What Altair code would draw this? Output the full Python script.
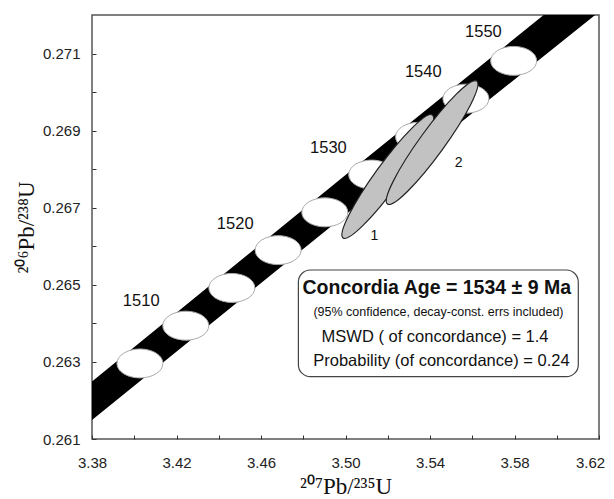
import altair as alt
import pandas as pd

# ---- data ----
# concordia error band (lower / upper edge)
band_x = [3.38, 3.50, 3.62]
band_lo = [0.26149, 0.26682, 0.27208]
band_hi = [0.26249, 0.26785, 0.27316]

# age-marker ellipses (every 5 Ma)
marker_age = [1505, 1510, 1515, 1520, 1525, 1530, 1535, 1540, 1545]
marker_x = [3.4027, 3.4244, 3.4462, 3.4681, 3.4902, 3.5124, 3.5346, 3.5570, 3.5796]
marker_y = [0.26296, 0.26394, 0.26492, 0.26590, 0.26688, 0.26786, 0.26884, 0.26983, 0.27081]

# age labels
age_text = ["1510", "1520", "1530", "1540", "1550"]
age_x = [3.4033, 3.4478, 3.4919, 3.5368, 3.5653]
age_y = [0.26459, 0.26657, 0.26856, 0.27053, 0.27157]

# analyses (error ellipses) and their labels
spot_id = ["1", "2"]
spot_x = [3.5200, 3.5410]
spot_y = [0.26781, 0.26869]
spot_lab_x = [3.5137, 3.5535]
spot_lab_y = [0.26627, 0.26815]

# summary box text
box_lines = [
    "Concordia Age = 1534 \u00b1 9 Ma",
    "(95% confidence, decay-const. errs included)",
    "MSWD ( of concordance) = 1.4",
    "Probability (of concordance) = 0.24",
]

# tick values
x_ticks = [3.38, 3.40, 3.42, 3.44, 3.46, 3.48, 3.50, 3.52, 3.54, 3.56, 3.58, 3.60, 3.62]
y_ticks = [0.261, 0.262, 0.263, 0.264, 0.265, 0.266, 0.267, 0.268, 0.269, 0.270, 0.271]

# ---- layout (annotation placement, styles) ----
box_pos = dict(x=3.4777, x2=3.6102, y=0.262616, y2=0.265385)
line_x = [3.5432, 3.5440, 3.5424, 3.5454]
line_y = [0.264918, 0.264282, 0.263654, 0.263029]
line_size = [19.5, 12.5, 16.5, 16.5]

SANS = "Liberation Sans"
SERIF = "Liberation Serif"

white_path = ("M1,0C1,0.348 0.552,0.63 0,0.63C-0.552,0.63 -1,0.348 -1,0"
              "C-1,-0.348 -0.552,-0.63 0,-0.63C0.552,-0.63 1,-0.348 1,0Z")
gray_path = ("M1,0C1,0.0906 0.552,0.164 0,0.164C-0.552,0.164 -1,0.0906 -1,0"
             "C-1,-0.0906 -0.552,-0.164 0,-0.164C0.552,-0.164 1,-0.0906 1,0Z")

xscale = alt.Scale(domain=[3.38, 3.62], nice=False, zero=False)
yscale = alt.Scale(domain=[0.261, 0.272], nice=False, zero=False)

xaxis = alt.Axis(
    values=x_ticks, format=".2f",
    labelExpr="round(datum.value*100) % 4 == 2 ? datum.label : ''",
    domain=False, grid=False, tickSize=4, offset=-4, tickColor="#333",
    tickWidth=1, labelPadding=16, labelFont=SANS, labelFontSize=15,
    labelColor="#222", labelFlush=False, labelOverlap=False,
    labelOffset={"condition": {"test": "datum.value > 3.61", "value": -9}, "value": 0},
    title="\u00b2\u2070\u2077Pb/\u00b2\u00b3\u2075U", titleFont=SERIF, titleFontSize=23,
    titleFontWeight="normal", titleColor="#111",
    titleX=253.5, titleY=58, titleBaseline="alphabetic", titleAlign="center",
)
yaxis = alt.Axis(
    values=y_ticks, format=".3f",
    labelExpr="round(datum.value*1000) % 2 == 1 ? datum.label : ''",
    domain=False, grid=False, tickSize=4, offset=-4, tickColor="#333",
    tickWidth=1, labelPadding=12, labelFont=SANS, labelFontSize=15,
    labelColor="#222", labelFlush=False, labelOverlap=False,
    title="\u00b2\u2070\u2076Pb/\u00b2\u00b3\u2078U", titleFont=SERIF, titleFontSize=23,
    titleFontWeight="normal", titleColor="#111",
    titleX=-63, titleY=212, titleBaseline="alphabetic", titleAlign="center",
    titleAngle=270,
)

band_df = pd.DataFrame({"x": band_x, "lo": band_lo, "hi": band_hi})
marker_df = pd.DataFrame({"x": marker_x, "y": marker_y, "age": marker_age})
age_df = pd.DataFrame({"x": age_x, "y": age_y, "t": age_text})
spot_df = pd.DataFrame({"x": spot_x, "y": spot_y, "id": spot_id})
spot_lab_df = pd.DataFrame({"x": spot_lab_x, "y": spot_lab_y, "t": spot_id})
box_df = pd.DataFrame([box_pos])
lines_df = pd.DataFrame({"x": line_x, "y": line_y, "t": box_lines, "s": line_size})

band = alt.Chart(band_df).mark_area(color="black", clip=True).encode(
    x=alt.X("x:Q", scale=xscale, axis=xaxis),
    y=alt.Y("lo:Q", scale=yscale, axis=yaxis),
    y2="hi:Q",
)

markers = alt.Chart(marker_df).mark_point(
    shape=white_path, filled=True, fill="white", stroke="#aaaaaa",
    strokeWidth=1, opacity=1, size=46 * 46,
).encode(x=alt.X("x:Q", scale=xscale), y=alt.Y("y:Q", scale=yscale))

spots = alt.Chart(spot_df).mark_point(
    shape=gray_path, filled=True, fill="#c2c2c2", stroke="#222222",
    strokeWidth=1.2, opacity=1, size=152 * 152, angle=306,
).encode(x=alt.X("x:Q", scale=xscale), y=alt.Y("y:Q", scale=yscale))

ages = alt.Chart(age_df).mark_text(
    font=SANS, fontSize=16.5, color="#111", align="center", baseline="middle",
).encode(x=alt.X("x:Q", scale=xscale), y=alt.Y("y:Q", scale=yscale), text="t:N")

spot_labels = alt.Chart(spot_lab_df).mark_text(
    font=SANS, fontSize=14, color="#111", align="center", baseline="middle",
).encode(x=alt.X("x:Q", scale=xscale), y=alt.Y("y:Q", scale=yscale), text="t:N")

box = alt.Chart(box_df).mark_rect(
    cornerRadius=12, fill="white", stroke="#444444", strokeWidth=1.2,
).encode(
    x=alt.X("x:Q", scale=xscale), x2="x2:Q",
    y=alt.Y("y:Q", scale=yscale), y2="y2:Q",
)

head = alt.Chart(lines_df.iloc[[0]]).mark_text(
    font=SANS, fontWeight="bold", fontSize=19.5, color="#111",
    align="center", baseline="middle",
).encode(x=alt.X("x:Q", scale=xscale), y=alt.Y("y:Q", scale=yscale), text="t:N")

rest = alt.Chart(lines_df.iloc[1:]).mark_text(
    font=SANS, color="#111", align="center", baseline="middle",
).encode(
    x=alt.X("x:Q", scale=xscale), y=alt.Y("y:Q", scale=yscale), text="t:N",
    size=alt.Size("s:Q", scale=None, legend=None),
)

chart = alt.layer(band, markers, spots, ages, spot_labels, box, head, rest).properties(
    width=507, height=424,
    autosize=alt.AutoSizeParams(type="none"),
    padding={"left": 84, "top": 7, "right": 7, "bottom": 60},
    background="white",
).configure_view(stroke="#555555", strokeWidth=1.5)

chart.save("out.html", embed_options={"renderer": "svg", "actions": False})
